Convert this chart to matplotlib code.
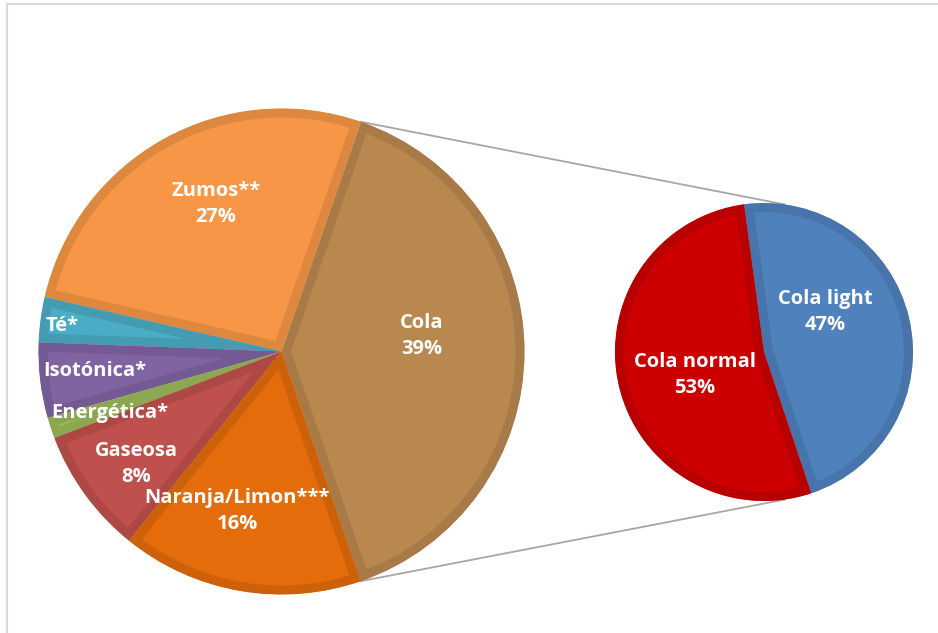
import matplotlib.pyplot as plt
import numpy as np

# main pie (Cola is the slice broken out into the second pie)
main_labels = ["Cola", "Zumos**", "Té*", "Isotónica*", "Energética*", "Gaseosa", "Naranja/Limon***"]
main_values = [39.4, 26.7, 3.0, 5.0, 1.4, 8.4, 16.1]
main_show_pct = [True, True, False, False, False, True, True]
main_colors = ["#B9884F", "#F79646", "#4BACC6", "#8064A2", "#9BBB59", "#C0504D", "#E46C0A"]

# secondary pie
sub_labels = ["Cola light", "Cola normal"]
sub_values = [47, 53]
sub_colors = ["#4F81BD", "#CC0000"]

W, H = 938, 633
MAIN_C, MAIN_R = (281.5, H - 351.5), 243
SUB_C, SUB_R = (764, H - 352), 149
SUB_START = -71.5
SUB_LINK_ANGLE = 82
EDGE_PX = 18

# label anchors in pixel coords (x, y from top)
main_label_pos = {
    "Cola": (422, 336), "Zumos**": (216, 204), "Té*": (62, 326),
    "Isotónica*": (95, 371), "Energética*": (110, 413), "Gaseosa": (136, 464),
    "Naranja/Limon***": (237, 511),
}
sub_label_pos = {"Cola light": (825, 312), "Cola normal": (695, 375)}


def darker(c, f=0.9):
    r, g, b = plt.matplotlib.colors.to_rgb(c)
    return (r * f, g * f, b * f)


def style(wedges, colors):
    for w, c in zip(wedges, colors):
        w.set_facecolor(c)
        w.set_edgecolor(darker(c))
        w.set_linewidth(EDGE_PX * 72 / 100)
        w.set_clip_on(True)
        w.set_clip_path(w)  # keep the border inside the slice, like Excel


fig = plt.figure(figsize=(W / 100, H / 100), dpi=100)
ax = fig.add_axes([0, 0, 1, 1])

main_start = -main_values[0] / sum(main_values) * 360 / 2
mw, _ = ax.pie(main_values, startangle=main_start, counterclock=True,
               center=MAIN_C, radius=MAIN_R, frame=True)
style(mw, main_colors)

sw, _ = ax.pie(sub_values, startangle=SUB_START, counterclock=True,
               center=SUB_C, radius=SUB_R, frame=True)
style(sw, sub_colors)

# connector lines from the Cola slice to the secondary pie
cola = mw[0]
for t_main, t_sub in ((cola.theta2, SUB_LINK_ANGLE), (cola.theta1, -SUB_LINK_ANGLE)):
    x0 = MAIN_C[0] + MAIN_R * np.cos(np.radians(t_main))
    y0 = MAIN_C[1] + MAIN_R * np.sin(np.radians(t_main))
    x1 = SUB_C[0] + SUB_R * np.cos(np.radians(t_sub))
    y1 = SUB_C[1] + SUB_R * np.sin(np.radians(t_sub))
    ax.plot([x0, x1], [y0, y1], color="#A6A6A6", lw=1.3, zorder=0.5)

font = dict(color="white", fontweight="bold", fontsize=14.5, family="Open Sans",
            ha="center", va="center", linespacing=1.45)

total = sum(main_values)
for lab, v, show in zip(main_labels, main_values, main_show_pct):
    txt = f"{lab}\n{round(v / total * 100)}%" if show else lab
    px, py = main_label_pos[lab]
    ax.text(px, H - py, txt, **font)

for lab, v in zip(sub_labels, sub_values):
    px, py = sub_label_pos[lab]
    ax.text(px, H - py, f"{lab}\n{v}%", **font)

# chart area border (only top and left visible)
ax.plot([7, 7], [0, H - 4], color="#D9D9D9", lw=1.5)
ax.plot([7, W], [H - 4, H - 4], color="#D9D9D9", lw=1.5)

ax.set_xlim(0, W)
ax.set_ylim(0, H)
ax.set_aspect("auto")
ax.axis("off")

fig.savefig("out.png", dpi=100)
